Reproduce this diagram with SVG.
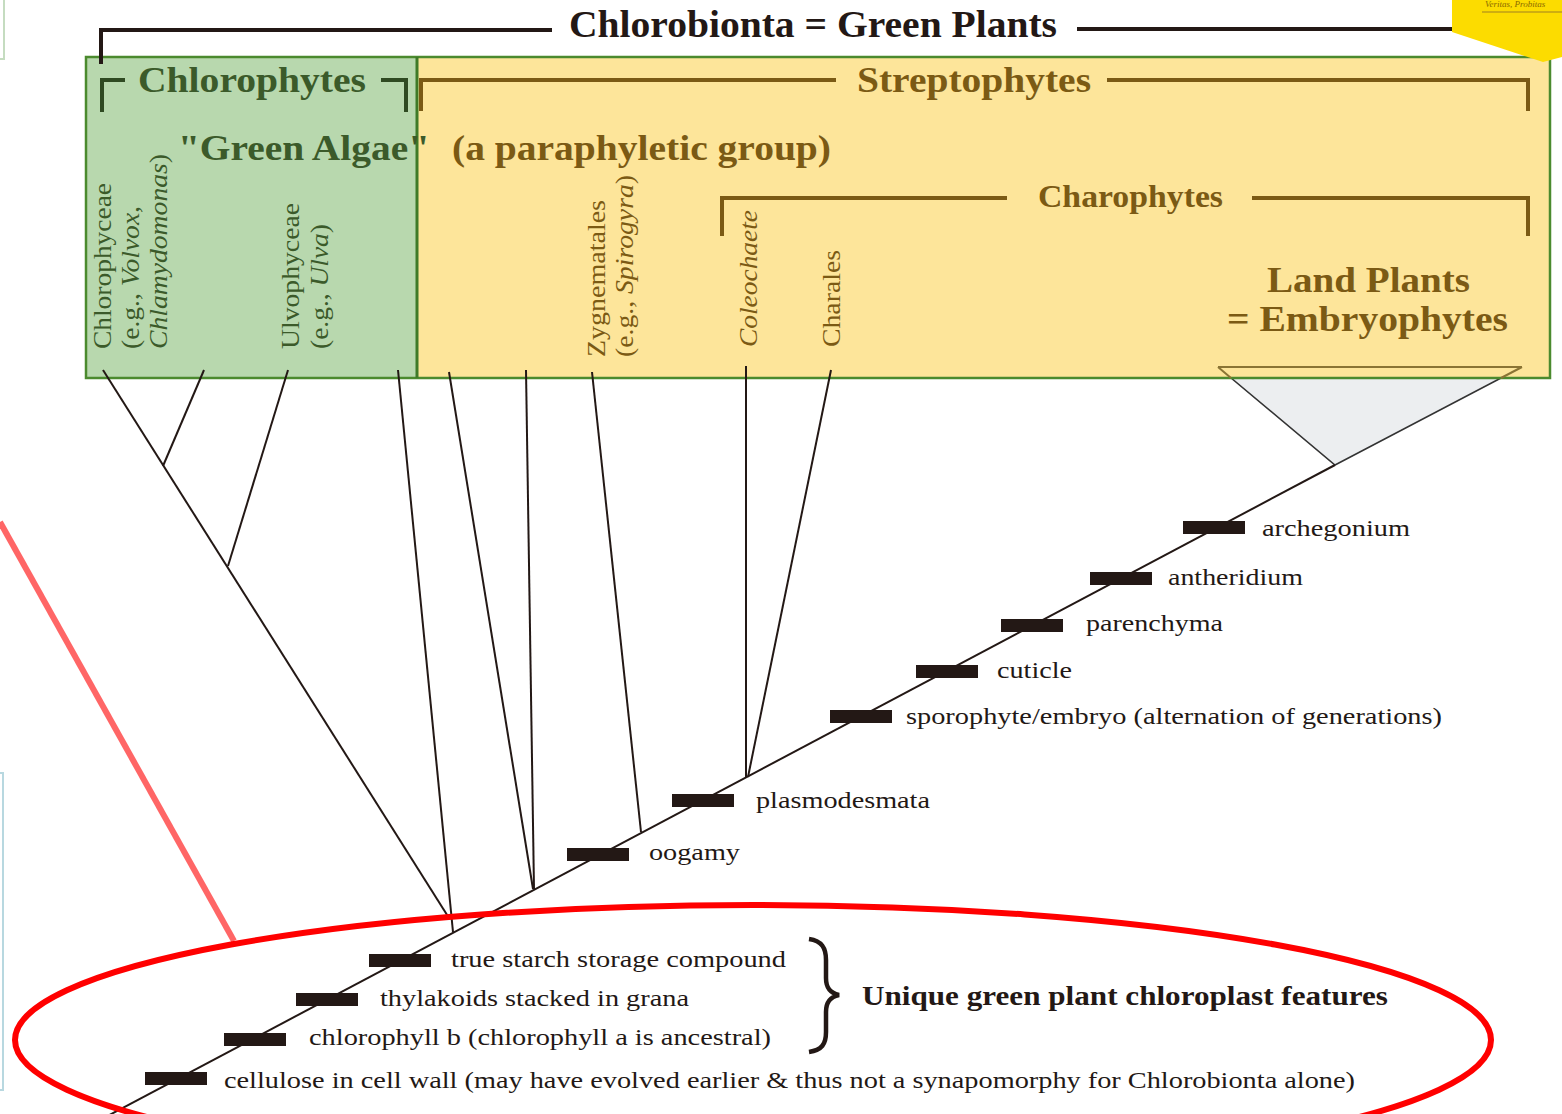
<svg xmlns="http://www.w3.org/2000/svg" width="1562" height="1114" viewBox="0 0 1562 1114">
<style>
.hdr{font-weight:bold}
.lbl{font-size:24px;fill:#231815}
.vl{font-size:25px}
.it{font-style:italic}
.br{fill:none;stroke-width:4;stroke-linecap:butt}
.tree{fill:none;stroke:#231815;stroke-width:2}
.bar{fill:#231815}
</style>
<rect width="1562" height="1114" fill="#ffffff"/>
<g font-family="Liberation Serif, Times New Roman, Times, serif">
<g id="edge-artifacts">
<path d="M0,59 H4 V0" fill="none" stroke="#c5dcc0" stroke-width="2"/>
<path d="M0,773 H3 V1090 H0" fill="none" stroke="#b8d8e0" stroke-width="2"/>
</g>
<g id="land-plants-triangle">
<polygon points="1218,367 1522,367 1335,465" fill="#eceef0" stroke="#333333" stroke-width="1.5"/>
</g>
<g id="group-boxes">
<rect id="chlorophytes-box" x="86" y="57" width="331" height="321" fill="#b8d8ae"/>
<rect id="streptophytes-box" x="417" y="57" width="1133" height="321" fill="#fde59a"/>
<rect x="86" y="57" width="1464" height="321" fill="none" stroke="#4b8a2e" stroke-width="2.5"/>
<line x1="417" y1="57" x2="417" y2="378" stroke="#3f7a28" stroke-width="3"/>
<path d="M1218,367 H1522 M1218,367 L1231,378 M1522,367 L1501,378" fill="none" stroke="#8a7434" stroke-width="2"/>
</g>
<g id="chlorobionta">
<path class="br" d="M101,64 V30 H552 M1077,29 H1460" stroke="#231815"/>
<text class="hdr" x="569" y="37" font-size="37" fill="#231815" textLength="488" lengthAdjust="spacingAndGlyphs">Chlorobionta = Green Plants</text>
</g>
<g id="tag">
<polygon points="1452,0 1562,0 1562,57 1543,62 1452,32" fill="#fcdc00"/>
<text x="1485" y="7" font-style="italic" font-size="9" fill="#8a6a00">Veritas, Probitas</text>
<line x1="1482" y1="12" x2="1562" y2="12" stroke="#a08020" stroke-width="1"/>
</g>
<g id="chlorophytes">
<path class="br" d="M102,112 V80 H125 M381,80 H406 V112" stroke="#2f4a22"/>
<text class="hdr" x="138" y="92" font-size="35" fill="#3b5a2a" textLength="228" lengthAdjust="spacingAndGlyphs">Chlorophytes</text>
</g>
<g id="green-algae">
<text class="hdr" x="178" y="160" font-size="35" fill="#3b5a2a" textLength="252" lengthAdjust="spacingAndGlyphs">"Green Algae"</text>
<text class="hdr" x="452" y="160" font-size="35" fill="#7b5a14" textLength="379" lengthAdjust="spacingAndGlyphs">(a paraphyletic group)</text>
</g>
<g id="streptophytes">
<path class="br" d="M421,111 V80 H836 M1107,80 H1528 V111" stroke="#7b5a14"/>
<text class="hdr" x="857" y="92" font-size="35" fill="#7b5a14" textLength="234" lengthAdjust="spacingAndGlyphs">Streptophytes</text>
</g>
<g id="charophytes">
<path class="br" d="M722,236 V198 H1007 M1252,198 H1528 V236" stroke="#7b5a14"/>
<text class="hdr" x="1038" y="207" font-size="31" fill="#7b5a14" textLength="185" lengthAdjust="spacingAndGlyphs">Charophytes</text>
</g>
<g id="land-plants">
<text class="hdr" x="1267" y="292" font-size="35" fill="#7b5a14" textLength="203" lengthAdjust="spacingAndGlyphs">Land Plants</text>
<text class="hdr" x="1227" y="331" font-size="35" fill="#7b5a14" textLength="281" lengthAdjust="spacingAndGlyphs">= Embryophytes</text>
</g>
<g id="taxon-labels">
<g fill="#3b5a2a">
<text class="vl" transform="translate(111,349) rotate(-90)" textLength="166" lengthAdjust="spacingAndGlyphs">Chlorophyceae</text>
<text class="vl" transform="translate(139,349) rotate(-90)" textLength="143" lengthAdjust="spacingAndGlyphs">(e.g., <tspan class="it">Volvox,</tspan></text>
<text class="vl" transform="translate(167,349) rotate(-90)" textLength="195" lengthAdjust="spacingAndGlyphs"><tspan class="it">Chlamydomonas</tspan>)</text>
<text class="vl" transform="translate(299,349) rotate(-90)" textLength="146" lengthAdjust="spacingAndGlyphs">Ulvophyceae</text>
<text class="vl" transform="translate(328,349) rotate(-90)" textLength="125" lengthAdjust="spacingAndGlyphs">(e.g., <tspan class="it">Ulva</tspan>)</text>
</g>
<g fill="#7b5a14">
<text class="vl" transform="translate(605,357) rotate(-90)" textLength="157" lengthAdjust="spacingAndGlyphs">Zygnematales</text>
<text class="vl" transform="translate(633,357) rotate(-90)" textLength="182" lengthAdjust="spacingAndGlyphs">(e.g., <tspan class="it">Spirogyra</tspan>)</text>
<text class="vl it" transform="translate(757,347) rotate(-90)" textLength="137" lengthAdjust="spacingAndGlyphs">Coleochaete</text>
<text class="vl" transform="translate(840,347) rotate(-90)" textLength="97" lengthAdjust="spacingAndGlyphs">Charales</text>
</g>
</g>
<g id="connectors">
<line class="tree" x1="100" y1="1120" x2="1335" y2="465"/>
<line class="tree" x1="103" y1="370" x2="449" y2="918"/>
<line class="tree" x1="204" y1="370" x2="163" y2="466"/>
<line class="tree" x1="288" y1="370" x2="228" y2="566"/>
<line class="tree" x1="398" y1="370" x2="453" y2="932"/>
<line class="tree" x1="449" y1="372" x2="533" y2="889"/>
<line class="tree" x1="526" y1="370" x2="534" y2="889"/>
<line class="tree" x1="592" y1="372" x2="641" y2="832"/>
<line class="tree" x1="746" y1="366" x2="746" y2="777"/>
<line class="tree" x1="831" y1="370" x2="748" y2="777"/>
</g>
<g id="synapomorphies">
<rect class="bar" x="145" y="1072" width="62" height="13"/>
<rect class="bar" x="224" y="1033" width="62" height="13"/>
<rect class="bar" x="296" y="993" width="62" height="13"/>
<rect class="bar" x="369" y="954" width="62" height="13"/>
<rect class="bar" x="567" y="848" width="62" height="13"/>
<rect class="bar" x="672" y="794" width="62" height="13"/>
<rect class="bar" x="830" y="710" width="62" height="13"/>
<rect class="bar" x="916" y="665" width="62" height="13"/>
<rect class="bar" x="1001" y="619" width="62" height="13"/>
<rect class="bar" x="1090" y="572" width="62" height="13"/>
<rect class="bar" x="1183" y="521" width="62" height="13"/>
<text class="lbl" x="1262" y="536" textLength="148" lengthAdjust="spacingAndGlyphs">archegonium</text>
<text class="lbl" x="1168" y="585" textLength="135" lengthAdjust="spacingAndGlyphs">antheridium</text>
<text class="lbl" x="1086" y="631" textLength="137" lengthAdjust="spacingAndGlyphs">parenchyma</text>
<text class="lbl" x="997" y="678" textLength="75" lengthAdjust="spacingAndGlyphs">cuticle</text>
<text class="lbl" x="906" y="724" textLength="536" lengthAdjust="spacingAndGlyphs">sporophyte/embryo (alternation of generations)</text>
<text class="lbl" x="756" y="808" textLength="174" lengthAdjust="spacingAndGlyphs">plasmodesmata</text>
<text class="lbl" x="649" y="860" textLength="91" lengthAdjust="spacingAndGlyphs">oogamy</text>
<text class="lbl" x="451" y="967" textLength="335" lengthAdjust="spacingAndGlyphs">true starch storage compound</text>
<text class="lbl" x="380" y="1006" textLength="309" lengthAdjust="spacingAndGlyphs">thylakoids stacked in grana</text>
<text class="lbl" x="309" y="1045" textLength="462" lengthAdjust="spacingAndGlyphs">chlorophyll b (chlorophyll a is ancestral)</text>
<text class="lbl" x="224" y="1088" textLength="1131" lengthAdjust="spacingAndGlyphs">cellulose in cell wall (may have evolved earlier &amp; thus not a synapomorphy for Chlorobionta alone)</text>
</g>
<g id="chloroplast-features">
<path d="M809,939 C822,941 826,948 826,960 L826,978 C826,988 830,993 839,995 C830,997 826,1002 826,1012 L826,1032 C826,1044 822,1050 809,1052" fill="none" stroke="#231815" stroke-width="4.5"/>
<text class="hdr" x="862" y="1005" font-size="27" fill="#231815" textLength="526" lengthAdjust="spacingAndGlyphs">Unique green plant chloroplast features</text>
</g>
</g>
<g id="annotations">
<line x1="0" y1="522" x2="234" y2="941" stroke="#ff6666" stroke-width="6"/>
<ellipse cx="753" cy="1040" rx="738" ry="135" fill="none" stroke="#ff0000" stroke-width="6"/>
</g>
</svg>
